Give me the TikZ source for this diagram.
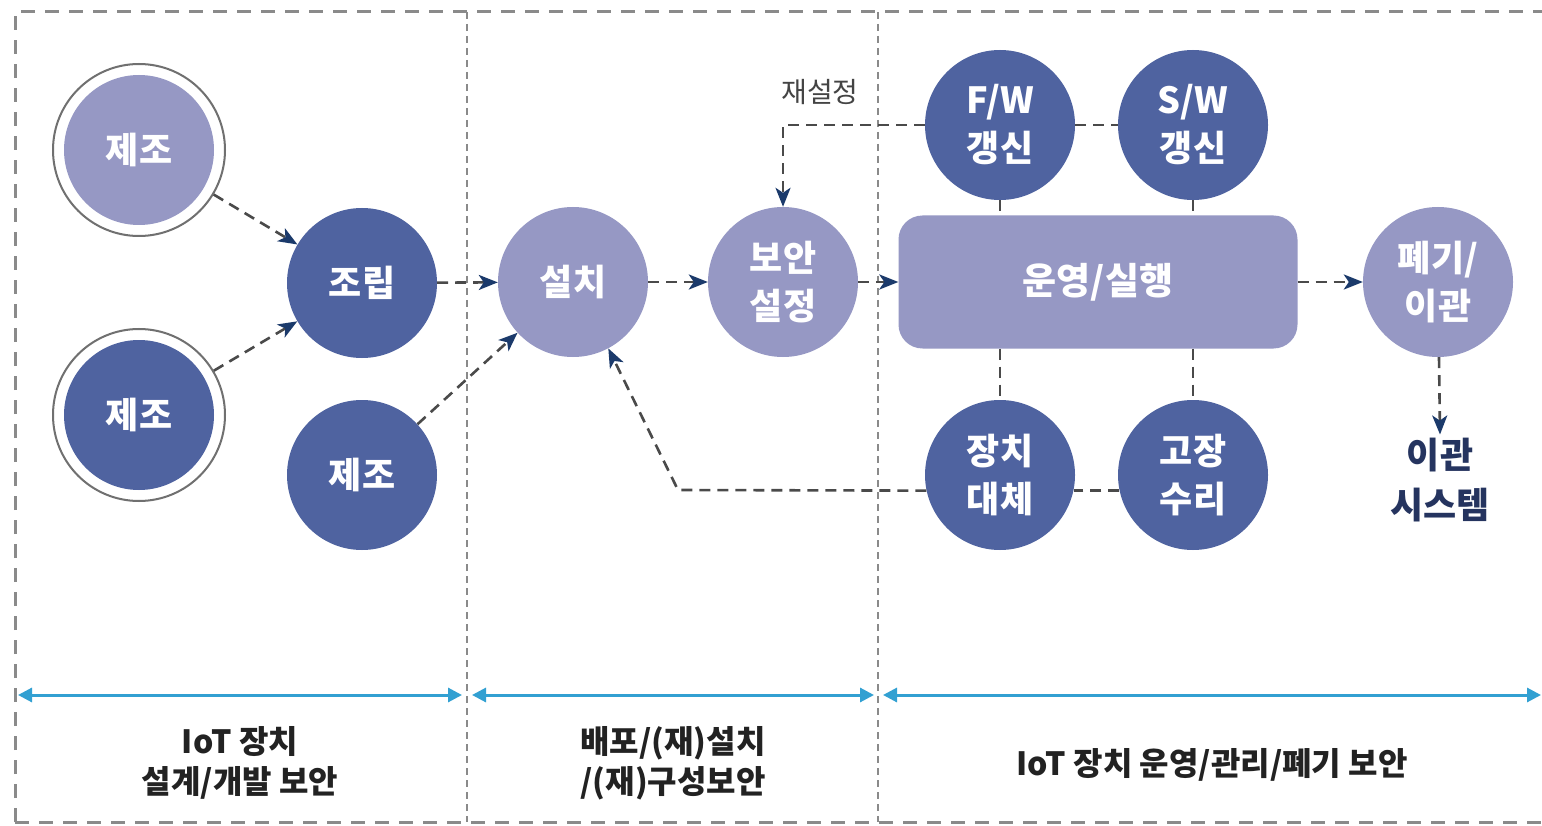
\documentclass[tikz,border=0pt]{standalone}
\usepackage{fontspec}
\setmainfont{Noto Sans CJK KR}
\usetikzlibrary{arrows.meta}
\definecolor{lightfill}{HTML}{9698C4}
\definecolor{darkfill}{HTML}{4F63A0}
\definecolor{ringcol}{HTML}{707070}
\definecolor{linegray}{HTML}{4A4A4A}
\definecolor{navyarrow}{HTML}{1B3A6B}
\definecolor{cyanline}{HTML}{32A0D2}
\definecolor{bordergray}{HTML}{8A8A8A}
\definecolor{textdark}{HTML}{222222}
\definecolor{textgray}{HTML}{444444}
\definecolor{textnavy}{HTML}{25345F}
\tikzset{
  lightcirc/.style={circle, fill=lightfill, minimum size=150pt, inner sep=0pt, text=white, align=center,
    font=\bfseries\fontsize{36}{48}\selectfont},
  darkcirc/.style={lightcirc, fill=darkfill},
  ringcirc/.style={circle, draw=ringcol, line width=2pt, fill=white, minimum size=172pt, inner sep=0pt},
  opbox/.style={rounded corners=24pt, fill=lightfill, minimum width=399pt, minimum height=133pt, inner sep=0pt,
    text=white, font=\bfseries\fontsize{37}{48}\selectfont},
  conn/.style={draw=linegray, line width=2.6pt, dash pattern=on 11pt off 7pt,
    -{Stealth[length=19pt,width=15pt,inset=5pt,color=navyarrow]}},
  dline/.style={draw=linegray, line width=2.6pt, dash pattern=on 11pt off 7pt},
  cyanarrow/.style={draw=cyanline, line width=3pt,
    {Triangle[length=14pt,width=14pt]}-{Triangle[length=14pt,width=14pt]}},
  outerborder/.style={draw=bordergray, line width=3pt, dash pattern=on 14pt off 10pt},
  divider/.style={draw=bordergray, line width=1.2pt, dash pattern=on 7pt off 5pt},
  phaselabel/.style={text=textdark, align=center, font=\bfseries\fontsize{32}{40}\selectfont},
}
\begin{document}
\begin{tikzpicture}[x=1pt,y=-1pt]
\useasboundingbox (0,0) rectangle (1542,826);
\clip (0,0) rectangle (1542,826);
\fill[white] (0,0) rectangle (1542,826);

% borders
\draw[outerborder] (15,822) -- (15,12) -- (1570,12);
\draw[outerborder] (15,822) -- (1570,822);
\draw[divider] (467,12) -- (467,822);
\draw[divider] (878,12) -- (878,822);

% nodes
\node[ringcirc] (m1r) at (139,150) {};
\node[lightcirc, minimum size=150pt] (m1) at (139,150) {제조};
\node[ringcirc] (m2r) at (139,415) {};
\node[darkcirc, minimum size=150pt] (m2) at (139,415) {제조};
\node[darkcirc] (asm) at (362,283) {조립};
\node[darkcirc] (m3) at (362,475) {제조};
\node[lightcirc] (inst) at (573,282) {설치};
\node[lightcirc] (sec) at (783,282) {보안\\설정};
\node[opbox] (op) at (1098,282) {운영/실행};
\node[darkcirc] (fw) at (1000,125) {F/W\\갱신};
\node[darkcirc] (sw) at (1193,125) {S/W\\갱신};
\node[darkcirc] (rep) at (1000,475) {장치\\대체};
\node[darkcirc] (fix) at (1193,475) {고장\\수리};
\node[lightcirc] (disp) at (1438,282) {폐기/\\이관};
\node[text=textnavy, align=center, font=\bfseries\fontsize{36}{50}\selectfont] (mig) at (1440,480) {이관\\시스템};
\node[text=textgray, font=\fontsize{28}{30}\selectfont] (reset) at (820,92) {재설정};

% connectors
\draw[conn] (m1r) -- (asm);
\draw[conn] (m2r) -- (asm);
\draw[conn] (asm) -- (inst);
\draw[conn] (m3) -- (inst);
\draw[conn] (inst) -- (sec);
\draw[conn] (sec) -- (op);
\draw[conn] (op) -- (disp);
\draw[conn] (disp) -- (mig.north);
\draw[conn] (fw.west) -| (sec.north);
\draw[dline] (fw.east) -- (sw.west);
\draw[dline] (fw.south) -- (fw.south |- op.north);
\draw[dline] (sw.south) -- (sw.south |- op.north);
\draw[dline] (rep.north |- op.south) -- (rep.north);
\draw[dline] (fix.north |- op.south) -- (fix.north);
\draw[dline] (fix.192) -- (rep.-12);
\coordinate (bend) at (678,490);
\draw[conn] (rep.192) -- (bend) -- (inst.-62);

% phase arrows
\coordinate (p1a) at (18,695);
\coordinate (p1b) at (462,695);
\coordinate (p2a) at (472,695);
\coordinate (p2b) at (874,695);
\coordinate (p3a) at (883,695);
\coordinate (p3b) at (1541,695);
\draw[cyanarrow] (p1a) -- (p1b);
\draw[cyanarrow] (p2a) -- (p2b);
\draw[cyanarrow] (p3a) -- (p3b);

\node[phaselabel] (l1) at (240,763) {IoT 장치\\설계/개발 보안};
\node[phaselabel] (l2) at (673,763) {배포/(재)설치\\/(재)구성보안};
\node[phaselabel] (l3) at (1212,765) {IoT 장치 운영/관리/폐기 보안};
\end{tikzpicture}
\end{document}
